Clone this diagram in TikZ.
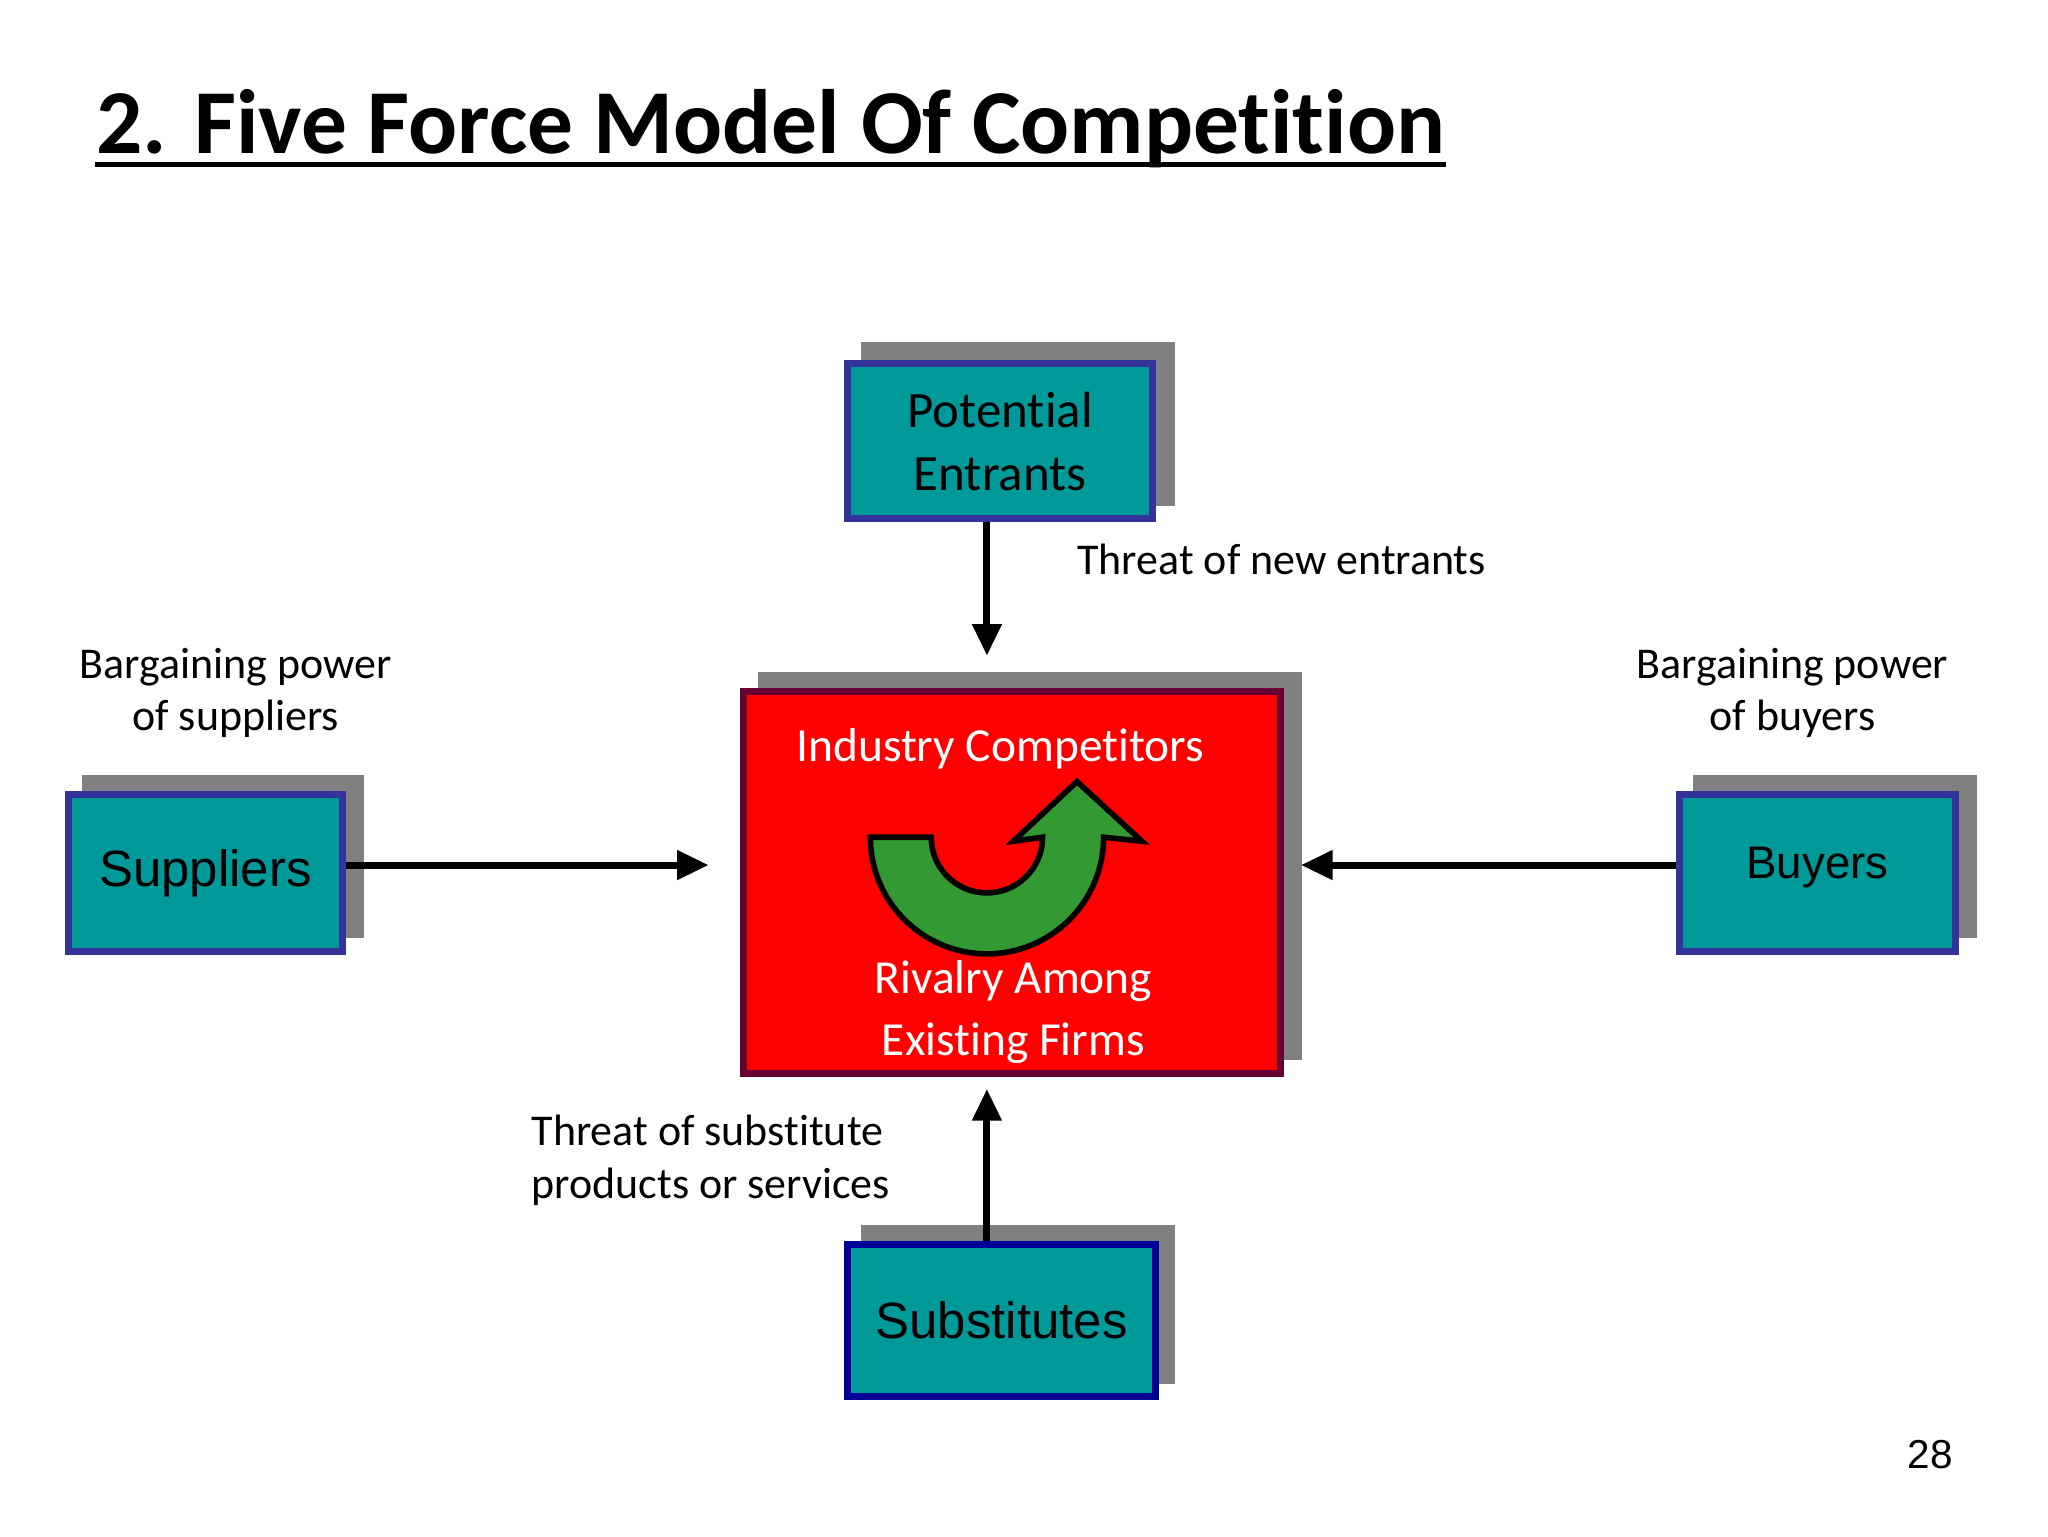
\documentclass[tikz,border=0pt]{standalone}
\usepackage{fontspec}
\setmainfont{Carlito}[Ligatures=NoCommon]
\newfontfamily\arialf{Liberation Sans}
\usetikzlibrary{arrows.meta}
\definecolor{teal1}{HTML}{009999}
\definecolor{bord}{HTML}{333399}
\definecolor{shad}{HTML}{808080}
\definecolor{grn}{HTML}{339933}
\begin{document}
\begin{tikzpicture}[x=0.01325cm,y=-0.01325cm,
 shadow/.style={fill=shad,draw=none},
 box/.style={fill=teal1,draw=bord,line width=2pt},
 lbl/.style={font=\fontsize{12.5}{15}\selectfont,align=center},
 arr/.style={line width=2pt,-{Triangle[length=9pt,width=8pt]}}]
\useasboundingbox (0,0) rectangle (1546,1160);
\node[anchor=base west,font=\bfseries\fontsize{26}{32}\selectfont,inner sep=0pt] (title) at (72,116) {2. Five Force Model Of Competition};
\draw[line width=1.4pt] (72,124) -- (title.base east |- 0,124);
% shadows
\fill[shadow] (650,258) rectangle (887,382);
\fill[shadow] (572,507) rectangle (983,800);
\fill[shadow] (62,585) rectangle (275,708);
\fill[shadow] (1278,585) rectangle (1492,708);
\fill[shadow] (650,925) rectangle (887,1045);
% boxes
\node[box,minimum width=230*0.01325cm,minimum height=117*0.01325cm,align=center,font=\fontsize{14.5}{18}\selectfont] (pe) at (755,333) {Potential\\Entrants};
\node[fill=red,draw={rgb,255:red,102;green,0;blue,51},line width=2pt,minimum width=405*0.01325cm,minimum height=288*0.01325cm] (ic) at (764,666) {};
\node[box,minimum width=207*0.01325cm,minimum height=118*0.01325cm,font=\arialf\fontsize{14.5}{18}\selectfont] (sup) at (155,659) {Suppliers};
\node[box,minimum width=208*0.01325cm,minimum height=118*0.01325cm,font=\arialf\fontsize{13}{16}\selectfont] (buy) at (1372,659) {\raisebox{6pt}{Buyers}};
\node[box,draw={rgb,255:red,0;green,0;blue,153},minimum width=232*0.01325cm,minimum height=115*0.01325cm,font=\arialf\fontsize{14.5}{18}\selectfont] (sub) at (756,997) {Substitutes};
% texts in industry box
\node[text=white,font=\fontsize{13.5}{16}\selectfont] (t1) at (755,565) {Industry Competitors};
\node[text=white,font=\fontsize{13.5}{17.5}\selectfont,align=center] (t2) at (765,764) {Rivalry Among\\Existing Firms};
% green arrow
\filldraw[fill=grn,draw=black,line width=1.6pt,line join=miter]
 (657,632) arc[start angle=180,end angle=360,radius=1.166cm] -- (862,635) -- (813,590) -- (765,635) -- (787,632) arc[start angle=0,end angle=-180,radius=0.5565cm] -- cycle;
% arrows
\coordinate (peE) at (745,495);
\coordinate (supE) at (535,653);
\coordinate (buyE) at (982,653);
\coordinate (subE) at (745,822);
\draw[arr] (pe.south -| peE) -- (peE);
\draw[arr] (sup.east |- supE) -- (supE);
\draw[arr] (buy.west |- buyE) -- (buyE);
\draw[arr] (sub.north -| subE) -- (subE);
% labels
\node[lbl,anchor=west] (l1) at (804,422) {Threat of new entrants};
\node[lbl] (l2) at (178,523) {Bargaining power\\of suppliers};
\node[lbl] (l3) at (1353,523) {Bargaining power\\of buyers};
\node[lbl,align=left,anchor=west] (l4) at (392,876) {Threat of substitute\\products or services};
\node[font=\arialf\fontsize{11.5}{14}\selectfont] (pg) at (1457,1098) {28};
\end{tikzpicture}
\end{document}
